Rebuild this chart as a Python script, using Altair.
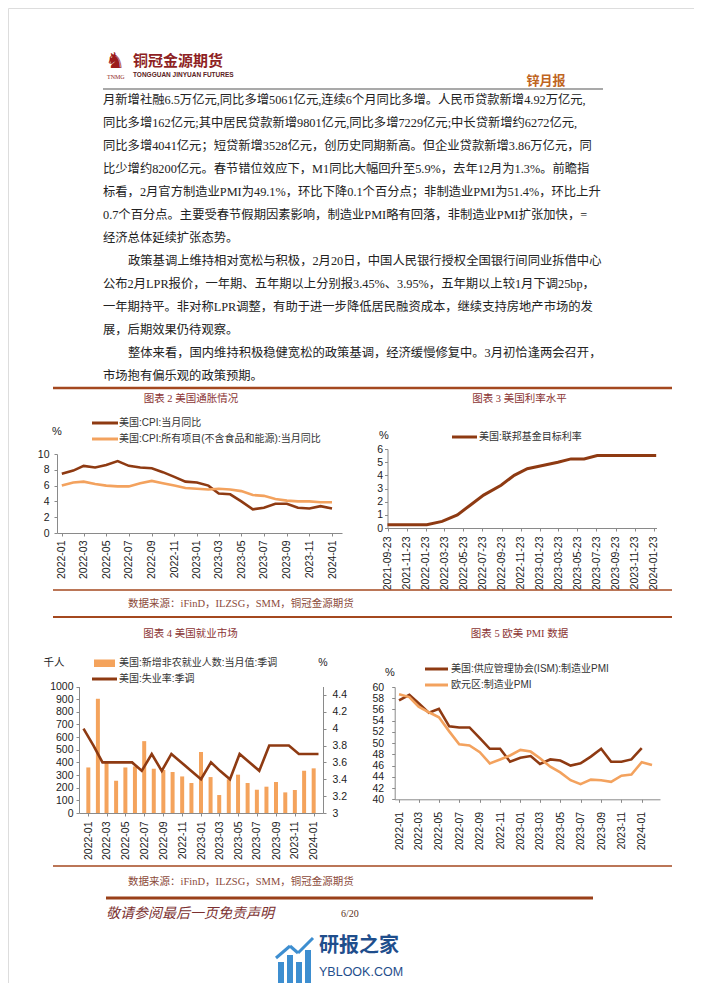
import altair as alt
import pandas as pd

# ---------------- data ----------------
months = [f"{y}-{m:02d}" for y in (2022, 2023, 2024) for m in range(1, 13)]
m25 = months[:25]          # 2022-01 .. 2024-01
m26 = months[:26]          # 2022-01 .. 2024-02
tick_months = m25[::2]     # 2022-01, 2022-03, ... 2024-01
fed_ticks = ["2021-09-23", "2021-11-23", "2022-01-23", "2022-03-23", "2022-05-23", "2022-07-23",
             "2022-09-23", "2022-11-23", "2023-01-23", "2023-03-23", "2023-05-23", "2023-07-23",
             "2023-09-23", "2023-11-23", "2024-01-23"]

us_cpi = [7.5, 7.9, 8.5, 8.3, 8.6, 9.1, 8.5, 8.3, 8.2, 7.7, 7.1, 6.5, 6.4, 6.0, 5.0, 4.9, 4.0, 3.0,
          3.2, 3.7, 3.7, 3.2, 3.1, 3.4, 3.1]
us_core = [6.0, 6.4, 6.5, 6.2, 6.0, 5.9, 5.9, 6.3, 6.6, 6.3, 6.0, 5.7, 5.6, 5.5, 5.6, 5.5, 5.3, 4.8,
           4.7, 4.3, 4.1, 4.0, 4.0, 3.9, 3.9]

fed_dates = ["2021-09-22", "2021-11-03", "2021-12-15", "2022-01-26", "2022-03-16", "2022-05-04",
             "2022-06-15", "2022-07-27", "2022-09-21", "2022-11-02", "2022-12-14", "2023-02-01",
             "2023-03-22", "2023-05-03", "2023-06-14", "2023-07-26", "2023-09-20", "2023-11-01",
             "2023-12-13", "2024-01-31"]
fed_rate = [0.25, 0.25, 0.25, 0.25, 0.5, 1.0, 1.75, 2.5, 3.25, 4.0, 4.5, 4.75, 5.0, 5.25, 5.25, 5.5,
            5.5, 5.5, 5.5, 5.5]

nfp = [360, 903, 398, 255, 360, 368, 568, 350, 340, 324, 289, 237, 482, 284, 142, 266, 303, 237,
       184, 208, 245, 163, 182, 334, 353]
unemp = [4.0, 3.8, 3.6, 3.6, 3.6, 3.6, 3.5, 3.7, 3.5, 3.7, 3.6, 3.5, 3.4, 3.6, 3.5, 3.4, 3.7, 3.6,
         3.5, 3.8, 3.8, 3.8, 3.7, 3.7, 3.7]

ism = [57.6, 58.6, 57.1, 55.4, 56.1, 53.0, 52.8, 52.8, 50.9, 49.0, 49.0, 46.7, 47.4, 47.7, 46.3,
       47.1, 46.9, 46.0, 46.4, 47.6, 49.0, 46.7, 46.7, 47.1, 49.1]
ez_pmi = [58.7, 58.2, 56.5, 55.5, 54.6, 52.1, 49.8, 49.6, 48.4, 46.4, 47.1, 47.8, 48.8, 48.5, 47.3,
          45.8, 44.8, 43.4, 42.7, 43.5, 43.4, 43.1, 44.2, 44.4, 46.6, 46.1]

body = [
    "月新增社融6.5万亿元,同比多增5061亿元,连续6个月同比多增。人民币贷款新增4.92万亿元,",
    "同比多增162亿元;其中居民贷款新增9801亿元,同比多增7229亿元;中长贷新增约6272亿元,",
    "同比多增4041亿元；短贷新增3528亿元，创历史同期新高。但企业贷款新增3.86万亿元，同",
    "比少增约8200亿元。春节错位效应下，M1同比大幅回升至5.9%，去年12月为1.3%。前瞻指",
    "标看，2月官方制造业PMI为49.1%，环比下降0.1个百分点；非制造业PMI为51.4%，环比上升",
    "0.7个百分点。主要受春节假期因素影响，制造业PMI略有回落，非制造业PMI扩张加快，=",
    "经济总体延续扩张态势。",
    "政策基调上维持相对宽松与积极，2月20日，中国人民银行授权全国银行间同业拆借中心",
    "公布2月LPR报价，一年期、五年期以上分别报3.45%、3.95%，五年期以上较1月下调25bp，",
    "一年期持平。非对称LPR调整，有助于进一步降低居民融资成本，继续支持房地产市场的发",
    "展，后期效果仍待观察。",
    "整体来看，国内维持积极稳健宽松的政策基调，经济缓慢修复中。3月初恰逢两会召开，",
    "市场抱有偏乐观的政策预期。",
]
body_indent = [0, 0, 0, 0, 0, 0, 0, 1, 0, 0, 0, 1, 0]

source_text = "数据来源：iFinD，ILZSG，SMM，铜冠金源期货"

# ---------------- layout helpers ----------------
W, H = 686, 975
M = 8


def X(v):
    return v - M


def Y(v):
    return v - M


SERIF = "Liberation Serif, Noto Sans CJK SC"
SANS = "Liberation Sans, Noto Sans CJK SC"
DARK = "#8E3A12"
LIGHT = "#F3A25E"
BAR = "#F4A35C"
RULE = "#A4481F"
TITLE = "#8B3434"
AXIS = "#8A8A8A"


def dt(s):
    p = [int(v) for v in s.split("-")]
    if len(p) == 2:
        p.append(1)
    return alt.DateTime(year=p[0], month=p[1], date=p[2])


def iso(s):
    return (s + "-01" if len(s) == 7 else s) + "T00:00:00"


layers = []


def text(s, x, y, size=10.5, color="#222", align="left", font=SANS, weight="normal", style="normal"):
    layers.append(alt.Chart(pd.DataFrame({"t": [s]})).mark_text(
        align=align, baseline="middle", fontSize=size, color=color, font=font,
        fontWeight=weight, fontStyle=style).encode(
        x=alt.value(X(x)), y=alt.value(Y(y)), text="t:N"))


def hline(x1, x2, y, color, w):
    layers.append(alt.Chart(pd.DataFrame({"a": [0]})).mark_rule(color=color, strokeWidth=w).encode(
        x=alt.value(X(x1)), x2=alt.value(X(x2)), y=alt.value(Y(y))))


def seg(x1, y1, x2, y2, color, w):
    layers.append(alt.Chart(pd.DataFrame({"a": [0]})).mark_rule(color=color, strokeWidth=w).encode(
        x=alt.value(X(x1)), x2=alt.value(X(x2)), y=alt.value(Y(y1)), y2=alt.value(Y(y2))))


def box(x1, x2, y1, y2, color):
    layers.append(alt.Chart(pd.DataFrame({"a": [0]})).mark_rect(color=color).encode(
        x=alt.value(X(x1)), x2=alt.value(X(x2)), y=alt.value(Y(y1)), y2=alt.value(Y(y2))))


def xaxis(y_page, values, fmt, pad):
    return alt.Axis(orient="bottom", offset=Y(y_page) - H, values=values, format=fmt,
                    labelAngle=-90, labelPadding=pad, tickSize=3, grid=False, labelFlush=False,
                    labelOverlap=False, domainColor=AXIS, tickColor=AXIS, labelColor="#222",
                    labelFont="Liberation Sans", labelFontSize=10.5, title=None)


def yaxis(x_page, values, fmt, pad, orient="left"):
    off = -X(x_page) if orient == "left" else X(x_page) - W
    return alt.Axis(orient=orient, offset=off, values=values, format=fmt, labelPadding=pad,
                    tickSize=3, grid=False, labelOverlap=False, domainColor=AXIS, tickColor=AXIS,
                    labelColor="#222", labelFont="Liberation Sans", labelFontSize=10.5, title=None)


# ---------------- header ----------------
text("♞", 115, 61, size=22, color="#9B1B1B", align="center", font="DejaVu Sans")
text("铜冠金源期货", 133, 61, size=15, color="#8E1F23", weight="bold", font=SERIF)
text("TONGGUAN JINYUAN FUTURES", 133, 75, size=6.5, color="#5B2222", weight="bold",
     font="Liberation Sans")
text("TNMG", 107, 77, size=6, color="#8E1F23", font="Liberation Serif")
text("锌月报", 546, 81, size=13, color="#C0651F", align="center", weight="bold", font=SERIF)
hline(103, 603, 89, "#555555", 1.2)

# ---------------- body text ----------------
body_df = pd.DataFrame({"i": list(range(len(body))), "ind": body_indent, "line": body})
layers.append(alt.Chart(body_df).mark_text(
    align="left", baseline="middle", fontSize=12.3, color="#222222", font=SERIF).encode(
    x=alt.X("ind:Q", scale=alt.Scale(domain=[0, 1], range=[X(103), X(128)]), axis=None),
    y=alt.Y("i:Q", scale=alt.Scale(domain=[0, 12], range=[Y(100), Y(376)]), axis=None),
    text="line:N"))

# ---------------- section frame ----------------
hline(53, 672, 388, RULE, 2.5)
text("图表 2  美国通胀情况", 191, 399, size=10.5, color=TITLE, align="center", font=SERIF)
text("图表 3  美国利率水平", 519.5, 399, size=10.5, color=TITLE, align="center", font=SERIF)
hline(53, 672, 590, RULE, 1.5)
text(source_text, 128, 604, size=10.5, color="#8B4A3A", font=SERIF)
hline(53, 672, 617, RULE, 2)
text("图表 4 美国就业市场", 190.5, 634, size=10.5, color=TITLE, align="center", font=SERIF)
text("图表 5  欧美 PMI 数据", 519.5, 634, size=10.5, color=TITLE, align="center", font=SERIF)
hline(53, 672, 866, RULE, 1.5)
text(source_text, 128, 882, size=10.5, color="#8B4A3A", font=SERIF)

# ---------------- chart 2: US inflation ----------------
cpi_df = pd.DataFrame({"d": [iso(m) for m in m25], "cpi": us_cpi, "core": us_core})
sx2 = alt.Scale(domain=[dt("2021-12-19"), dt("2024-01-28")], range=[X(57), X(342)])
sy2 = alt.Scale(domain=[0, 10], range=[Y(533), Y(454)])
layers.append(alt.Chart(cpi_df).mark_line(color=DARK, strokeWidth=2.6).encode(
    x=alt.X("d:T", scale=sx2, axis=xaxis(533, [dt(m) for m in tick_months], "%Y-%m", 4), title=None),
    y=alt.Y("cpi:Q", scale=sy2, axis=yaxis(57, [0, 2, 4, 6, 8, 10], "d", 5), title=None)))
layers.append(alt.Chart(cpi_df).mark_line(color=LIGHT, strokeWidth=2.6).encode(
    x=alt.X("d:T", scale=sx2, axis=None, title=None),
    y=alt.Y("core:Q", scale=sy2, axis=None, title=None)))
text("%", 57, 432, size=11, color="#222", align="center")
hline(92, 118, 423, DARK, 3)
text("美国:CPI:当月同比", 119, 423, size=10, color="#333")
hline(92, 118, 439, LIGHT, 3)
text("美国:CPI:所有项目(不含食品和能源):当月同比", 119, 439, size=10, color="#333")

# ---------------- chart 3: Fed funds ----------------
fed_df = pd.DataFrame({"d": [iso(d) for d in fed_dates], "rate": fed_rate})
layers.append(alt.Chart(fed_df).mark_line(color=DARK, strokeWidth=3).encode(
    x=alt.X("d:T", scale=alt.Scale(domain=[dt("2021-09-22"), dt("2024-02-01")],
                                   range=[X(387.5), X(656.5)]),
            axis=xaxis(528, [dt(t) for t in fed_ticks], "%Y-%m-%d", 5), title=None),
    y=alt.Y("rate:Q", scale=alt.Scale(domain=[0, 6], range=[Y(528), Y(449)]),
            axis=yaxis(387.5, [0, 1, 2, 3, 4, 5, 6], "d", 2), title=None)))
text("%", 384, 436, size=11, color="#222", align="center")
hline(452, 477, 437, DARK, 3)
text("美国:联邦基金目标利率", 479, 437, size=10, color="#333")

# ---------------- chart 4: US jobs ----------------
job_df = pd.DataFrame({"d": [iso(m) for m in m25], "nfp": nfp, "unemp": unemp})
sx4 = alt.Scale(domain=[dt("2021-12-18"), dt("2024-01-15")], range=[X(79), X(323)])
layers.append(alt.Chart(job_df).mark_bar(color=BAR, size=4).encode(
    x=alt.X("d:T", scale=sx4, axis=xaxis(813, [dt(m) for m in tick_months], "%Y-%m", 5), title=None),
    y=alt.Y("nfp:Q", scale=alt.Scale(domain=[0, 1000], range=[Y(813), Y(686.5)]),
            axis=yaxis(79, list(range(0, 1001, 100)), "d", 3), title=None)))
layers.append(alt.Chart(job_df).mark_line(color=DARK, strokeWidth=2.6).encode(
    x=alt.X("d:T", scale=sx4, axis=None, title=None),
    y=alt.Y("unemp:Q", scale=alt.Scale(domain=[3, 4.5], range=[Y(813), Y(686.5)]),
            axis=yaxis(323, [3, 3.2, 3.4, 3.6, 3.8, 4, 4.2, 4.4], ".1~f", 6, orient="right"),
            title=None)))
text("千人", 54, 663, size=10.5, color="#222", align="center")
text("%", 323, 663, size=10.5, color="#222", align="center")
box(94, 115, 659.5, 667, BAR)
text("美国:新增非农就业人数:当月值:季调", 119, 663, size=10, color="#333")
hline(92, 117, 679, DARK, 3)
text("美国:失业率:季调", 119, 679, size=10, color="#333")

# ---------------- chart 5: PMI ----------------
ism_df = pd.DataFrame({"d": [iso(m) for m in m25], "ism": ism})
ez_df = pd.DataFrame({"d": [iso(m) for m in m26], "ez": ez_pmi})
sx5 = alt.Scale(domain=[dt("2021-12-19"), dt("2024-02-25")], range=[X(394.7), X(660)])
sy5 = alt.Scale(domain=[40, 60], range=[Y(799.3), Y(687)])
layers.append(alt.Chart(ism_df).mark_line(color=DARK, strokeWidth=2.6).encode(
    x=alt.X("d:T", scale=sx5, axis=xaxis(799.3, [dt(m) for m in tick_months], "%Y-%m", 9), title=None),
    y=alt.Y("ism:Q", scale=sy5, axis=yaxis(394.7, list(range(40, 61, 2)), "d", 8), title=None)))
layers.append(alt.Chart(ez_df).mark_line(color=LIGHT, strokeWidth=2.6).encode(
    x=alt.X("d:T", scale=sx5, axis=None, title=None),
    y=alt.Y("ez:Q", scale=sy5, axis=None, title=None)))
text("%", 390, 673, size=11, color="#222", align="center")
hline(425, 448, 669, DARK, 3)
text("美国:供应管理协会(ISM):制造业PMI", 451, 669, size=10, color="#333")
hline(425, 448, 685, LIGHT, 3)
text("欧元区:制造业PMI", 451, 685, size=10, color="#333")

# ---------------- footer ----------------
hline(106, 593, 898, "#9A4019", 3)
text("敬请参阅最后一页免责声明", 106, 914, size=14, color="#7B3030", style="italic", font=SERIF)
text("6/20", 341, 914, size=10, color="#5A3020", font="Liberation Serif")

# watermark
box(278, 284, 962, 984, "#3D8ED0")
box(287, 293, 955, 984, "#3D8ED0")
box(296, 302, 962, 984, "#3D8ED0")
box(305, 311, 950, 984, "#3D8ED0")
seg(276, 958, 290, 946, "#3D8ED0", 3)
seg(290, 946, 298, 953, "#3D8ED0", 3)
seg(298, 953, 313, 938, "#3D8ED0", 3)
text("研报之家", 319, 946, size=20, color="#1F4E8C", weight="bold")
text("YBLOOK.COM", 319, 972, size=12.5, color="#1F4E8C", font="Liberation Sans")

chart = alt.layer(*layers).resolve_scale(x="independent", y="independent").properties(
    width=W, height=H, padding=0, autosize=alt.AutoSizeParams(type="none")
).configure_view(stroke=None).configure(background="white")

chart.save("out.html", embed_options={"renderer": "svg", "actions": False})
